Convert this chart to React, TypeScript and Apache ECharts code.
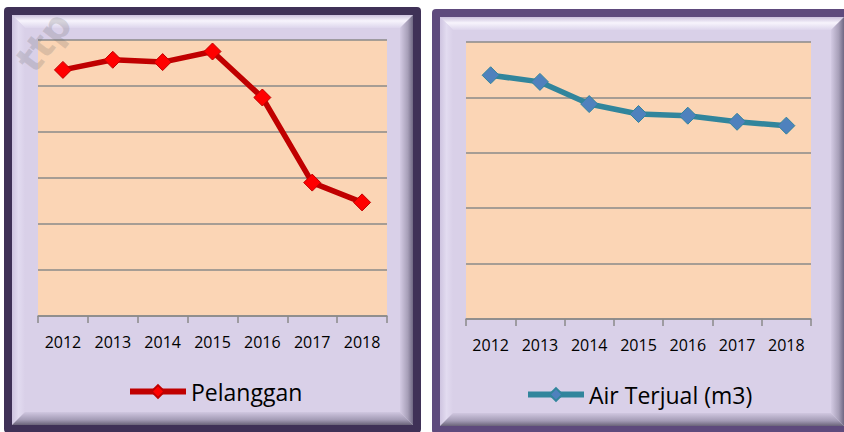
import React, { useEffect, useRef } from "react";
import * as echarts from "echarts";

const years = ["2012", "2013", "2014", "2015", "2016", "2017", "2018"];
const pelanggan = [5350, 5570, 5520, 5750, 4750, 2900, 2470];
const airTerjual = [4400, 4280, 3880, 3700, 3670, 3560, 3490];
const seriesNames = ["Pelanggan", "Air Terjual (m3)"];
const watermarkText = "ttp";

const FONT = "Open Sans";

function lin(x2: number, y2: number, stops: [number, string][]) {
  return new echarts.graphic.LinearGradient(
    0,
    0,
    x2,
    y2,
    stops.map(([offset, color]) => ({ offset, color }))
  );
}

function panel(x0: number, y0: number, x1: number, y1: number, border: string) {
  const b = 8;
  const t = 13;
  const ix0 = x0 + b;
  const iy0 = y0 + b;
  const ix1 = x1 - b;
  const iy1 = y1 - b;
  return [
    {
      type: "rect",
      z: -20,
      shape: { x: x0, y: y0, width: x1 - x0, height: y1 - y0, r: 4 },
      style: { fill: border },
    },
    {
      type: "rect",
      z: -19,
      shape: { x: ix0, y: iy0, width: ix1 - ix0, height: iy1 - iy0 },
      style: { fill: "#D9D0E8" },
    },
    {
      type: "polygon",
      z: -18,
      shape: { points: [[ix0, iy0], [ix1, iy0], [ix1 - t, iy0 + t], [ix0 + t, iy0 + t]] },
      style: { fill: lin(0, 1, [[0, "#CBC1DD"], [0.45, "#F7F4FC"], [1, "#DDD5EC"]]) },
    },
    {
      type: "polygon",
      z: -18,
      shape: { points: [[ix0, iy0], [ix0 + t, iy0 + t], [ix0 + t, iy1 - t], [ix0, iy1]] },
      style: { fill: lin(1, 0, [[0, "#CEC4E0"], [0.5, "#E2DBF0"], [1, "#D9D0E8"]]) },
    },
    {
      type: "polygon",
      z: -18,
      shape: { points: [[ix1, iy0], [ix1, iy1], [ix1 - t, iy1 - t], [ix1 - t, iy0 + t]] },
      style: { fill: lin(1, 0, [[0, "#D3CAE3"], [0.6, "#A79FB8"], [1, "#6F6883"]]) },
    },
    {
      type: "polygon",
      z: -18,
      shape: { points: [[ix0, iy1], [ix1, iy1], [ix1 - t, iy1 - t], [ix0 + t, iy1 - t]] },
      style: { fill: lin(0, 1, [[0, "#D0C7E0"], [0.6, "#A39BB5"], [1, "#6A6379"]]) },
    },
  ];
}

export default function App() {
  const ref = useRef<HTMLDivElement>(null);

  useEffect(() => {
    if (!ref.current) return;
    const chart = echarts.init(ref.current, null, { renderer: "svg" });

    const xAxisBase = {
      type: "category" as const,
      data: years,
      boundaryGap: true,
      axisLine: { show: true, lineStyle: { color: "#8A8A8A", width: 1.5 } },
      axisTick: { show: true, length: 7, lineStyle: { color: "#8A8A8A", width: 1.5 } },
      axisLabel: { color: "#000", fontFamily: FONT, fontSize: 16, margin: 18 },
    };
    const yAxisBase = {
      type: "value" as const,
      min: 0,
      axisLabel: { show: false },
      axisLine: { show: false },
      axisTick: { show: false },
      splitLine: { show: true, lineStyle: { color: "#8A8A8A", width: 1.5 } },
    };
    const legendBase = {
      itemWidth: 56,
      itemHeight: 16,
      padding: 0,
      lineStyle: { width: 6 },
      textStyle: { color: "#000", fontFamily: FONT, fontSize: 23 },
    };

    chart.setOption({
      animation: false,
      graphic: {
        elements: [
          ...panel(4, 7, 421, 433, "#3F3157"),
          ...panel(432, 9, 852, 434, "#5E4A7D"),
          {
            type: "text",
            z: 50,
            x: 44,
            y: 42,
            rotation: (52 * Math.PI) / 180,
            style: {
              text: watermarkText,
              align: "center",
              verticalAlign: "middle",
              fill: "rgba(105,105,105,0.22)",
              font: "bold 38px 'DejaVu Sans'",
            },
          },
        ],
      },
      grid: [
        {
          left: 38,
          top: 40,
          width: 349,
          height: 276,
          show: true,
          backgroundColor: "#FBD5B5",
          borderWidth: 0,
        },
        {
          left: 466,
          top: 42,
          width: 345,
          height: 277,
          show: true,
          backgroundColor: "#FBD5B5",
          borderWidth: 0,
        },
      ],
      xAxis: [
        { ...xAxisBase, gridIndex: 0 },
        { ...xAxisBase, gridIndex: 1 },
      ],
      yAxis: [
        { ...yAxisBase, gridIndex: 0, max: 6000, interval: 1000 },
        { ...yAxisBase, gridIndex: 1, max: 5000, interval: 1000 },
      ],
      legend: [
        { ...legendBase, data: [seriesNames[0]], left: 127, top: 380 },
        { ...legendBase, data: [seriesNames[1]], left: 525, top: 383 },
      ],
      series: [
        {
          name: seriesNames[0],
          type: "line",
          xAxisIndex: 0,
          yAxisIndex: 0,
          data: pelanggan,
          symbol: "diamond",
          symbolSize: 17,
          lineStyle: { color: "#C00000", width: 5.5 },
          itemStyle: { color: "#FF0000", borderColor: "#C00000", borderWidth: 1 },
        },
        {
          name: seriesNames[1],
          type: "line",
          xAxisIndex: 1,
          yAxisIndex: 1,
          data: airTerjual,
          symbol: "diamond",
          symbolSize: 17,
          lineStyle: { color: "#31859C", width: 5.5 },
          itemStyle: { color: "#4F81BD", borderColor: "#31859C", borderWidth: 1 },
        },
      ],
    });

    return () => chart.dispose();
  }, []);

  return (
    <div
      ref={ref}
      style={{ position: "absolute", left: 0, top: 0, width: 844, height: 432 }}
    />
  );
}
